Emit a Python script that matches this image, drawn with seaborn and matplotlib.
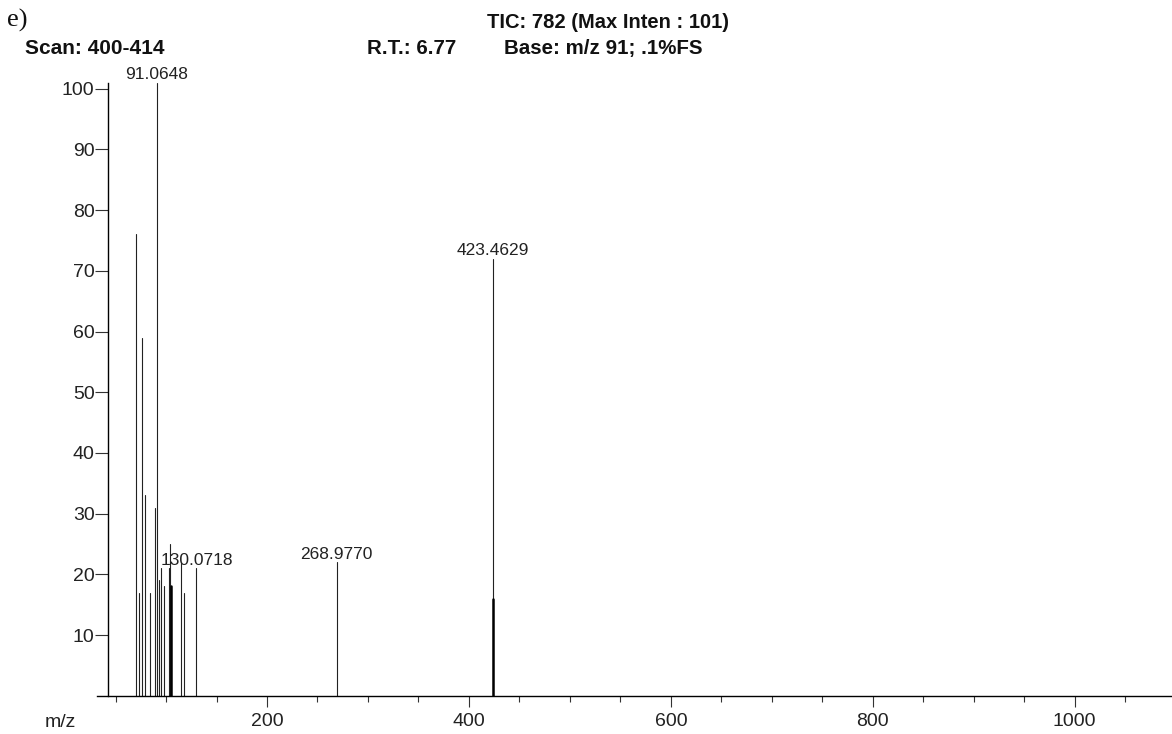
import matplotlib
matplotlib.use("Agg")
import matplotlib.pyplot as plt
from matplotlib.ticker import MultipleLocator, FixedLocator
import seaborn as sns
import pandas as pd

# ---- data ----
mz_thin = [70.5, 73.5, 76.5, 79, 84, 89, 91.0648, 93, 95, 98, 103, 104,
           115, 118, 130.0718, 268.9770, 423.4629]
int_thin = [76, 17, 59, 33, 17, 31, 101, 19, 21, 18, 21, 25,
            22, 17, 21, 22, 72]
mz_thick = [105, 424]
int_thick = [18, 16]
labeled_mz = [91.0648, 130.0718, 268.9770, 423.4629]

y_ticks = [10, 20, 30, 40, 50, 60, 70, 80, 90, 100]
x_major = [200, 400, 600, 800, 1000]

header_tic = "TIC: 782 (Max Inten : 101)"
header_scan = "Scan: 400-414"
header_rt = "R.T.: 6.77"
header_base = "Base: m/z 91; .1%FS"
panel_label = "e)"


def sticks(mz, inten):
    rows = []
    for i, (m, v) in enumerate(zip(mz, inten)):
        rows.append({"mz": m, "intensity": 0.0, "peak": i})
        rows.append({"mz": m, "intensity": v, "peak": i})
    return pd.DataFrame(rows)


sns.set_theme(style="ticks")
plt.rcParams["font.family"] = ["Liberation Sans", "DejaVu Sans"]

W, H = 1172, 734
fig = plt.figure(figsize=(W / 100, H / 100), dpi=100)
fig.patch.set_facecolor("white")

left_px, right_px = 97, 1172
bottom_px, top_px = 695.7, 82.7
ax = fig.add_axes([left_px / W, 1 - bottom_px / H,
                   (right_px - left_px) / W, (bottom_px - top_px) / H])
ax.set_facecolor("white")

sns.lineplot(data=sticks(mz_thin, int_thin), x="mz", y="intensity",
             units="peak", estimator=None, sort=False, color="#222222",
             linewidth=0.8, ax=ax, legend=False)
sns.lineplot(data=sticks(mz_thick, int_thick), x="mz", y="intensity",
             units="peak", estimator=None, sort=False, color="#000000",
             linewidth=1.8, ax=ax, legend=False)

for m, v in zip(mz_thin, int_thin):
    if m in labeled_mz:
        ax.annotate(f"{m:.4f}", xy=(m, v), xytext=(0, 2.5),
                    textcoords="offset points", ha="center", va="baseline",
                    fontsize=12.5, color="#222222", annotation_clip=False)

ax.set_xlim(31.6, 1096.4)
ax.set_ylim(0, 101)
ax.set_xlabel("")
ax.set_ylabel("")

for s in ["top", "right"]:
    ax.spines[s].set_visible(False)
ax.spines["left"].set_position(("data", 42.8))
for s in ["left", "bottom"]:
    ax.spines[s].set_color("black")
    ax.spines[s].set_linewidth(1.0)

ax.yaxis.set_major_locator(FixedLocator(y_ticks))
ax.set_yticklabels([str(t) for t in y_ticks])
ax.xaxis.set_major_locator(FixedLocator(x_major))
ax.set_xticklabels([str(t) for t in x_major])
ax.xaxis.set_minor_locator(MultipleLocator(50))

ax.tick_params(axis="y", which="major", direction="out", length=9.4,
               width=0.8, color="#333333", pad=0.5, labelsize=14,
               labelcolor="#222222")
ax.tick_params(axis="x", which="major", direction="out", length=8,
               width=0.8, color="#333333", pad=4.3, labelsize=14,
               labelcolor="#222222")
ax.tick_params(axis="x", which="minor", direction="out", length=4.3,
               width=0.8, color="#333333")


def ftext(x_px, y_px, s, **kw):
    fig.text(x_px / W, 1 - y_px / H, s, va="baseline", ha="left", **kw)


ftext(7, 27, panel_label, fontsize=19, family=["Liberation Serif", "DejaVu Serif"],
      color="#111111")
ftext(487, 28, header_tic, fontsize=14.5, fontweight="bold", color="#111111")
ftext(25, 54, header_scan, fontsize=15, fontweight="bold", color="#111111")
ftext(367, 54, header_rt, fontsize=14.8, fontweight="bold", color="#111111")
ftext(504, 54, header_base, fontsize=14.8, fontweight="bold", color="#111111")
ftext(45, 727, "m/z", fontsize=14, color="#222222")

fig.savefig("out.png", dpi=100, facecolor="white")
